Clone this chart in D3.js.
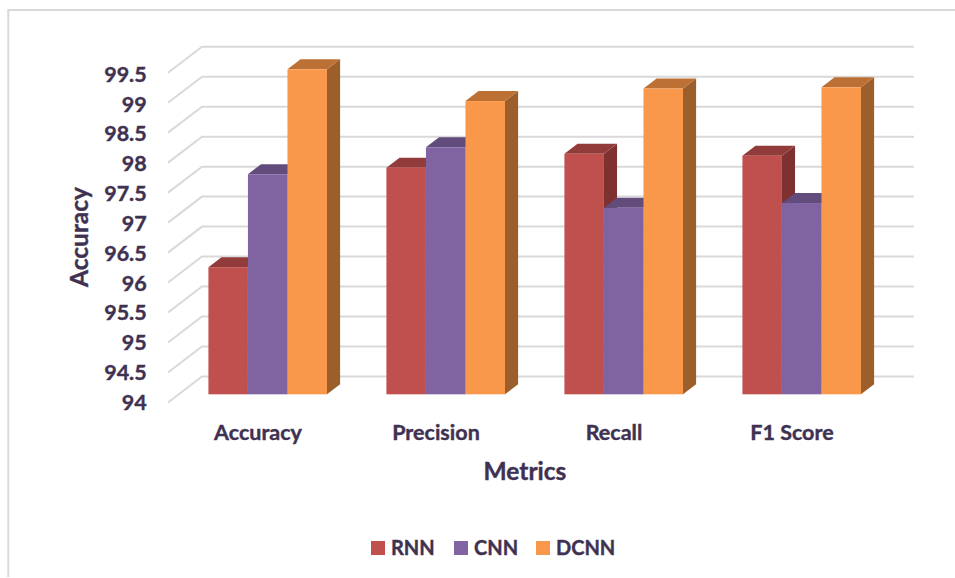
<!DOCTYPE html>
<html>
<head>
<meta charset="utf-8">
<script src="https://cdn.jsdelivr.net/npm/d3@7"></script>
<style>
  html, body { margin: 0; padding: 0; background: #fff; }
  svg { display: block; }
  text { font-family: Lato, "Open Sans", sans-serif; font-weight: 700; fill: #3f3151; stroke: #3f3151; stroke-width: 0.4px; }
</style>
</head>
<body>
<script>
const metrics = ["Accuracy", "Precision", "Recall", "F1 Score"];
const seriesNames = ["RNN", "CNN", "DCNN"];
const rnnValues = [96.12, 97.78, 98.01, 97.98];
const cnnValues = [97.67, 98.12, 97.11, 97.19];
const dcnnValues = [99.42, 98.89, 99.10, 99.12];
const yTicks = [94, 94.5, 95, 95.5, 96, 96.5, 97, 97.5, 98, 98.5, 99, 99.5];

const faceColors = ["#c0504d", "#8064a2", "#f9974a"];
const topColors = ["#913c3a", "#614c7c", "#bc7034"];
const sideColors = ["#7f3130", "#54426c", "#9c5f2b"];

const width = 955, height = 578;
const depth = { dx: 34, dy: -26 };
const barDepth = { near: 0.315, far: 0.7 };

const svg = d3.select("body").append("svg").attr("width", width).attr("height", height);

// Chart frame: open on the right and bottom sides
svg.append("path")
  .attr("d", "M8.3,577V10H955")
  .attr("fill", "none").attr("stroke", "#d9d9d9").attr("stroke-width", 2);

const y = d3.scaleLinear().domain([94, 99.5]).range([402.5, 72.7]);
const yLabel = d3.scaleLinear().domain([94, 99.5]).range([410, 81.7]);
const x = d3.scaleBand().domain(metrics).range([168, 880]);
const xSeries = d3.scaleBand().domain(seriesNames).range([-59.3, 59.3]);

// Shift from the chart's front plane to a plane inside the depth axis
const sx = t => depth.dx * t;
const sy = t => depth.dy * t;

// Gridlines: a diagonal floor segment, then along the back wall
svg.append("g").selectAll("path").data(yTicks).join("path")
  .attr("d", d => {
    const p = d3.path();
    p.moveTo(168, y(d));
    p.lineTo(168 + depth.dx, y(d) + depth.dy);
    p.lineTo(880 + depth.dx, y(d) + depth.dy);
    return p.toString();
  })
  .attr("fill", "none").attr("stroke", "#d9d9d9").attr("stroke-width", 2);

// Value axis labels
svg.append("g").selectAll("text").data(yTicks).join("text")
  .attr("x", 146.7).attr("y", d => yLabel(d))
  .attr("text-anchor", "end").attr("font-size", 21.5)
  .text(d => d);

// Extruded bars, drawn series by series within each metric
const series = [rnnValues, cnnValues, dcnnValues];
const bars = metrics.flatMap((m, i) => seriesNames.map((s, j) => ({ m, s, j, v: series[j][i] })));

const group = svg.append("g").selectAll("g").data(bars).join("g");
const polygon = pts => pts.map(p => p.join(",")).join(" ");

function corners(d) {
  const left = x(d.m) + x.bandwidth() / 2 + xSeries(d.s) + sx(barDepth.near);
  const right = left + xSeries.bandwidth();
  const ddx = sx(barDepth.far) - sx(barDepth.near);
  const ddy = sy(barDepth.far) - sy(barDepth.near);
  const top = y(d.v) + sy(barDepth.near);
  const base = y(94) + sy(barDepth.near);
  return { left, right, ddx, ddy, top, base };
}

group.append("polygon")
  .attr("points", d => {
    const c = corners(d);
    return polygon([[c.right, c.top], [c.right + c.ddx, c.top + c.ddy], [c.right + c.ddx, c.base + c.ddy], [c.right, c.base]]);
  })
  .attr("fill", d => sideColors[d.j]);

group.append("polygon")
  .attr("points", d => {
    const c = corners(d);
    return polygon([[c.left, c.top], [c.left + c.ddx, c.top + c.ddy], [c.right + c.ddx, c.top + c.ddy], [c.right, c.top]]);
  })
  .attr("fill", d => topColors[d.j]);

group.append("rect")
  .attr("x", d => corners(d).left)
  .attr("y", d => corners(d).top)
  .attr("width", xSeries.bandwidth())
  .attr("height", d => { const c = corners(d); return c.base - c.top; })
  .attr("fill", d => faceColors[d.j]);

// Category labels
svg.append("g").selectAll("text").data(metrics).join("text")
  .attr("x", d => x(d) + x.bandwidth() / 2 + 1)
  .attr("y", 440)
  .attr("text-anchor", "middle").attr("font-size", 21.5)
  .text(d => d);

// Axis titles
svg.append("text")
  .attr("transform", "translate(88.3,237) rotate(-90)")
  .attr("text-anchor", "middle").attr("font-size", 24.5)
  .text("Accuracy");

svg.append("text")
  .attr("x", 525).attr("y", 479.5)
  .attr("text-anchor", "middle").attr("font-size", 24.5)
  .text("Metrics");

// Legend
const legendX = d3.scaleOrdinal().domain(seriesNames).range([371, 454, 536]);
const legend = svg.append("g").selectAll("g").data(seriesNames).join("g")
  .attr("transform", d => `translate(${legendX(d)},541)`);
legend.append("rect")
  .attr("width", 14).attr("height", 14)
  .attr("fill", (d, i) => faceColors[i]);
legend.append("text")
  .attr("x", 20).attr("y", 14)
  .attr("font-size", 20)
  .text(d => d);
</script>
</body>
</html>
